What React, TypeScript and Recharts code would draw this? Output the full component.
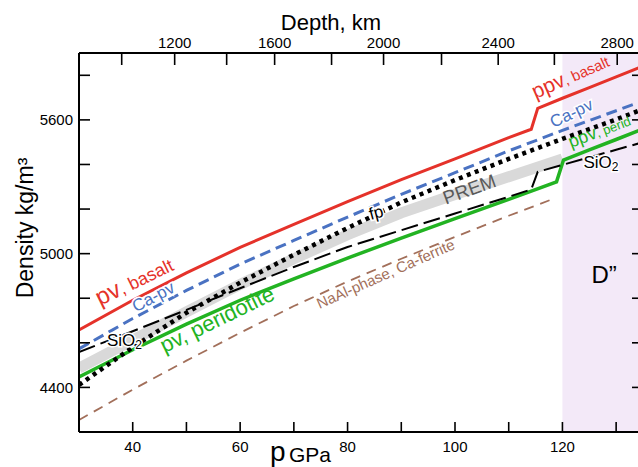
import React from 'react';
import { LineChart, Line, XAxis, YAxis, ReferenceArea, ReferenceDot } from 'recharts';

// pressure (GPa) vs density (kg/m3)
const pvBasaltP = [30, 40, 50, 60, 70, 80, 90, 100, 110, 114.2, 115.4, 120, 125, 130, 135];
const pvBasaltRho = [4658, 4791, 4914, 5028, 5131, 5233, 5332, 5425, 5520, 5558, 5652, 5697, 5745, 5793, 5841];

const caPvP = [30, 40, 50, 60, 70, 80, 90, 100, 110, 120, 130, 135];
const caPvRho = [4573, 4709, 4835, 4953, 5059, 5164, 5266, 5363, 5461, 5553, 5641, 5685];

const fpP = [30, 40, 50, 60, 70, 80, 90, 100, 110, 120, 130, 135];
const fpRho = [4411, 4580, 4735, 4870, 4995, 5115, 5230, 5330, 5425, 5515, 5602, 5648];

const premP = [30, 40, 50, 60, 70, 80, 90, 100, 110, 120];
const premRho = [4486, 4612, 4739, 4862, 4977, 5085, 5183, 5265, 5345, 5425];

const sio2P = [30, 40, 50, 60, 70, 80, 90, 100, 110, 114.2, 115.4, 120, 130, 135];
const sio2Rho = [4559, 4652, 4748, 4845, 4940, 5030, 5105, 5180, 5255, 5288, 5367, 5398, 5466, 5500];

const pvPeridP = [30, 40, 50, 60, 70, 80, 90, 100, 110, 118.9, 120.2, 125, 130, 135];
const pvPeridRho = [4447, 4569, 4684, 4791, 4887, 4980, 5070, 5157, 5243, 5322, 5420, 5465, 5512, 5559];

const naAlP = [30, 40, 50, 60, 70, 80, 90, 100, 110, 118.2];
const naAlRho = [4254, 4390, 4520, 4645, 4765, 4875, 4977, 5075, 5170, 5245];

// axes
const pTicks = [40, 50, 60, 70, 80, 90, 100, 110, 120, 130];
const pLabels = [40, 60, 80, 100, 120];
const rhoTicks = [4400, 4600, 4800, 5000, 5200, 5400, 5600, 5800];
const rhoLabels = [4400, 5000, 5600];
const depthKm = [1000, 1200, 1400, 1600, 1800, 2000, 2200, 2400, 2600, 2800];
const depthP = [37.95, 47.81, 57.49, 66.42, 77.02, 86.7, 97.49, 108.04, 118.5, 130.2];
const depthLabels = [1200, 1600, 2000, 2400, 2800];

const FONT = '"Liberation Sans", Arial, Helvetica, sans-serif';
const RED = '#e5322a';
const BLUE = '#4a72c2';
const GREEN = '#22b322';
const BROWN = '#a26f5a';

const toRows = (p: number[], rho: number[]) => p.map((v, i) => ({ p: v, rho: rho[i] }));

type Piece = { t: string; size: number; dy?: number };
type Note = { x: number; y: number; angle: number; color: string; halo?: boolean; pieces: Piece[] };

const notes: Note[] = [
  { x: 33.9, y: 4765, angle: -26, color: RED, pieces: [{ t: 'pv', size: 24 }, { t: ', basalt', size: 18 }] },
  { x: 40.6, y: 4736, angle: -28, color: BLUE, halo: true, pieces: [{ t: 'Ca-pv', size: 17 }] },
  { x: 35.2, y: 4586, angle: 0, color: '#000', halo: true, pieces: [{ t: 'SiO', size: 17 }, { t: '2', size: 12, dy: 3 }] },
  { x: 45.9, y: 4553, angle: -26, color: GREEN, pieces: [{ t: 'pv, peridotite', size: 22 }] },
  { x: 74.8, y: 4752, angle: -24, color: BROWN, pieces: [{ t: 'NaAl-phase, Ca-ferrite', size: 15 }] },
  { x: 98.3, y: 5219, angle: -20, color: '#5a5a5a', pieces: [{ t: 'PREM', size: 19 }] },
  { x: 84.3, y: 5151, angle: -15, color: '#000', halo: true, pieces: [{ t: 'fp', size: 17 }] },
  { x: 115.0, y: 5694, angle: -24, color: RED, pieces: [{ t: 'ppv', size: 21 }, { t: ', basalt', size: 15 }] },
  { x: 118.3, y: 5564, angle: -25, color: BLUE, halo: true, pieces: [{ t: 'Ca-pv', size: 17 }] },
  { x: 121.6, y: 5474, angle: -21, color: GREEN, pieces: [{ t: 'ppv', size: 18 }, { t: ', perid', size: 13 }] },
  { x: 123.9, y: 5385, angle: 0, color: '#000', halo: true, pieces: [{ t: 'SiO', size: 17 }, { t: '2', size: 12, dy: 3 }] },
  { x: 125.4, y: 4868, angle: 0, color: '#000', pieces: [{ t: 'D\u201d', size: 24 }] },
];

function noteShape(n: Note) {
  return (props: any) => {
    const { cx, cy } = props;
    return (
      <text
        x={cx}
        y={cy}
        transform={`rotate(${n.angle} ${cx} ${cy})`}
        fill={n.color}
        fontFamily={FONT}
        stroke={n.halo ? '#fff' : 'none'}
        strokeWidth={n.halo ? 3 : 0}
        paintOrder="stroke"
      >
        {n.pieces.map((p, i) => (
          <tspan key={i} fontSize={p.size} dy={p.dy}>
            {p.t}
          </tspan>
        ))}
      </text>
    );
  };
}

function LeftTick(props: any) {
  const { x, y, payload } = props;
  return (
    <g>
      <line x1={x} x2={x + 11} y1={y} y2={y} stroke="#000" strokeWidth={1.6} />
      {rhoLabels.includes(payload.value) && (
        <text x={x - 6} y={y + 5.5} textAnchor="end" fontSize={15} fontFamily={FONT} fill="#000">
          {payload.value}
        </text>
      )}
    </g>
  );
}

function RightTick(props: any) {
  const { x, y } = props;
  return <line x1={x} x2={x - 11} y1={y} y2={y} stroke="#000" strokeWidth={1.6} />;
}

function BottomTick(props: any) {
  const { x, y, payload } = props;
  return (
    <g>
      <line x1={x} x2={x} y1={y} y2={y - 10} stroke="#000" strokeWidth={1.6} />
      {pLabels.includes(payload.value) && (
        <text x={x} y={y + 20} textAnchor="middle" fontSize={15} fontFamily={FONT} fill="#000">
          {payload.value}
        </text>
      )}
    </g>
  );
}

function TopTick(props: any) {
  const { x, y, payload } = props;
  const km = depthKm[depthP.indexOf(payload.value)];
  return (
    <g>
      <line x1={x} x2={x} y1={y} y2={y + 12} stroke="#000" strokeWidth={1.6} />
      {depthLabels.includes(km) && (
        <text x={x} y={y - 5} textAnchor="middle" fontSize={15} fontFamily={FONT} fill="#000">
          {km}
        </text>
      )}
    </g>
  );
}

export default function App() {
  const axisLine = { stroke: '#000', strokeWidth: 2 };
  return (
    <div style={{ position: 'absolute', left: 0, top: 0, width: 638, height: 467, overflow: 'hidden', background: '#fff' }}>
      <LineChart width={670} height={467} margin={{ top: 0, right: 0, bottom: 0, left: 0 }}>
        <XAxis
          xAxisId="bottom"
          type="number"
          dataKey="p"
          domain={[30, 135]}
          allowDataOverflow
          ticks={pTicks}
          interval={0}
          height={35}
          tickSize={0}
          tickMargin={0}
          tickLine={false}
          axisLine={axisLine}
          tick={<BottomTick />}
        />
        <XAxis
          xAxisId="top"
          orientation="top"
          type="number"
          dataKey="p"
          domain={[30, 135]}
          allowDataOverflow
          ticks={depthP}
          interval={0}
          height={53}
          tickSize={0}
          tickMargin={0}
          tickLine={false}
          axisLine={axisLine}
          tick={<TopTick />}
        />
        <YAxis
          yAxisId="left"
          type="number"
          domain={[4200, 5900]}
          allowDataOverflow
          ticks={rhoTicks}
          interval={0}
          width={79}
          tickSize={0}
          tickMargin={0}
          tickLine={false}
          axisLine={axisLine}
          tick={<LeftTick />}
        />
        <YAxis
          yAxisId="right"
          orientation="right"
          type="number"
          domain={[4200, 5900]}
          allowDataOverflow
          ticks={rhoTicks}
          interval={0}
          width={27}
          tickSize={0}
          tickMargin={0}
          tickLine={false}
          axisLine={axisLine}
          tick={<RightTick />}
        />
        <ReferenceArea xAxisId="bottom" yAxisId="left" x1={120} x2={135} y1={4200} y2={5900} fill="#f3e9f8" fillOpacity={1} stroke="none" />
        <Line xAxisId="bottom" yAxisId="left" data={toRows(premP, premRho)} dataKey="rho" type="linear" stroke="#d9d9d9" strokeWidth={11} dot={false} isAnimationActive={false} />
        <Line xAxisId="bottom" yAxisId="left" data={toRows(naAlP, naAlRho)} dataKey="rho" type="linear" stroke={BROWN} strokeWidth={1.8} strokeDasharray="10 7" dot={false} isAnimationActive={false} />
        <Line xAxisId="bottom" yAxisId="left" data={toRows(pvPeridP, pvPeridRho)} dataKey="rho" type="linear" stroke={GREEN} strokeWidth={3.5} dot={false} isAnimationActive={false} />
        <Line xAxisId="bottom" yAxisId="left" data={toRows(sio2P, sio2Rho)} dataKey="rho" type="linear" stroke="#000" strokeWidth={2} strokeDasharray="17 6" dot={false} isAnimationActive={false} />
        <Line xAxisId="bottom" yAxisId="left" data={toRows(fpP, fpRho)} dataKey="rho" type="linear" stroke="#000" strokeWidth={4.5} strokeDasharray="4 4.5" dot={false} isAnimationActive={false} />
        <Line xAxisId="bottom" yAxisId="left" data={toRows(caPvP, caPvRho)} dataKey="rho" type="linear" stroke={BLUE} strokeWidth={3} strokeDasharray="11 6" dot={false} isAnimationActive={false} />
        <Line xAxisId="bottom" yAxisId="left" data={toRows(pvBasaltP, pvBasaltRho)} dataKey="rho" type="linear" stroke={RED} strokeWidth={3} dot={false} isAnimationActive={false} />
        {notes.map((n, i) => (
          <ReferenceDot key={i} xAxisId="bottom" yAxisId="left" x={n.x} y={n.y} r={0} shape={noteShape(n)} />
        ))}
      </LineChart>
      <svg width={638} height={467} style={{ position: 'absolute', left: 0, top: 0, pointerEvents: 'none' }}>
        <text x={331} y={30} textAnchor="middle" fontSize={22} fontFamily={FONT} fill="#000">Depth, km</text>
        <text x={270} y={461} fontSize={28} fontFamily={FONT} fill="#000">p</text>
        <text x={289} y={462} fontSize={21} fontFamily={FONT} fill="#000">GPa</text>
        <text x={33} y={228} transform="rotate(-90 33 228)" textAnchor="middle" fontSize={23} fontFamily={FONT} fill="#000">Density kg/m³</text>
      </svg>
    </div>
  );
}
